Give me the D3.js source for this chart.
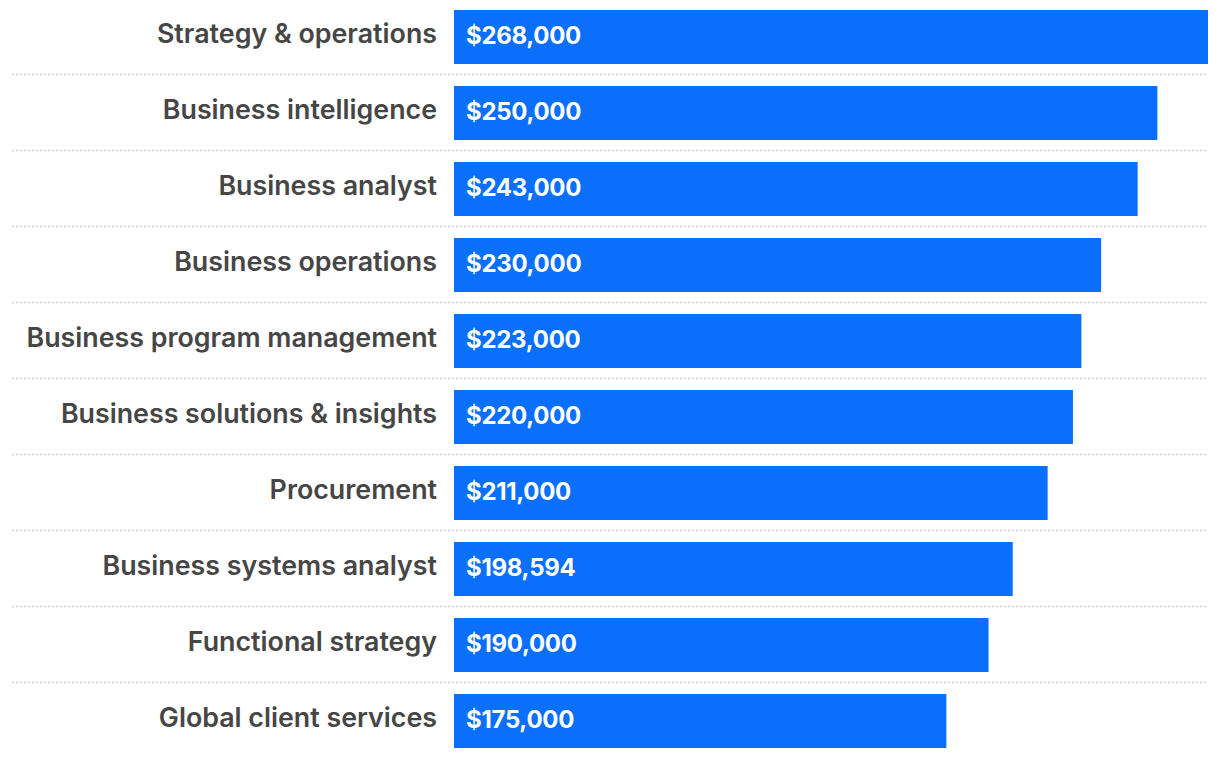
<!DOCTYPE html>
<html><head><meta charset="utf-8">
<script src="https://cdn.jsdelivr.net/npm/d3@7"></script>
<style>html,body{margin:0;padding:0;background:#fff;}</style>
</head><body>
<svg id="chart" width="1220" height="758"></svg>
<script>
const categories = ["Strategy & operations","Business intelligence","Business analyst","Business operations","Business program management","Business solutions & insights","Procurement","Business systems analyst","Functional strategy","Global client services"];
const values = [268000,250000,243000,230000,223000,220000,211000,198594,190000,175000];

const svg = d3.select("#chart");
const x = d3.scaleLinear().domain([0,268000]).range([454,1208]);
const y = d3.scaleBand().domain(categories).range([-1,759]).paddingInner(0.29).paddingOuter(0.145);
const fmt = v => "$" + d3.format(",")(v);

// separators
svg.selectAll("line.sep").data(categories.slice(1)).enter().append("line")
  .attr("x1",12).attr("x2",1208)
  .attr("y1",d=>y(d)-y.step()*y.paddingInner()/2 - 0.5)
  .attr("y2",d=>y(d)-y.step()*y.paddingInner()/2 - 0.5)
  .attr("stroke","#cfcfcf").attr("stroke-width",1.5).attr("stroke-dasharray","2,2");

svg.selectAll("rect.bar").data(values).enter().append("rect")
  .attr("x",x(0)).attr("y",(d,i)=>y(categories[i]))
  .attr("width",d=>x(d)-x(0)).attr("height",y.bandwidth())
  .attr("fill","#0a6ffb");

svg.selectAll("text.cat").data(categories).enter().append("text")
  .attr("x",437).attr("y",d=>y(d)+y.bandwidth()/2 - 3)
  .attr("dy","0.35em").attr("text-anchor","end")
  .attr("font-family","Inter, 'Open Sans', sans-serif").attr("font-weight",600)
  .attr("font-size",26.8).attr("fill","#464646")
  .text(d=>d);

svg.selectAll("text.val").data(values).enter().append("text")
  .attr("x",466).attr("y",(d,i)=>y(categories[i])+y.bandwidth()/2 - 1.5)
  .attr("dy","0.36em")
  .attr("font-family","Inter, 'Open Sans', sans-serif").attr("font-weight",700)
  .attr("font-size",24).attr("fill","#fff").attr("letter-spacing","-0.3")
  .text(d=>fmt(d));
</script>
</body></html>
